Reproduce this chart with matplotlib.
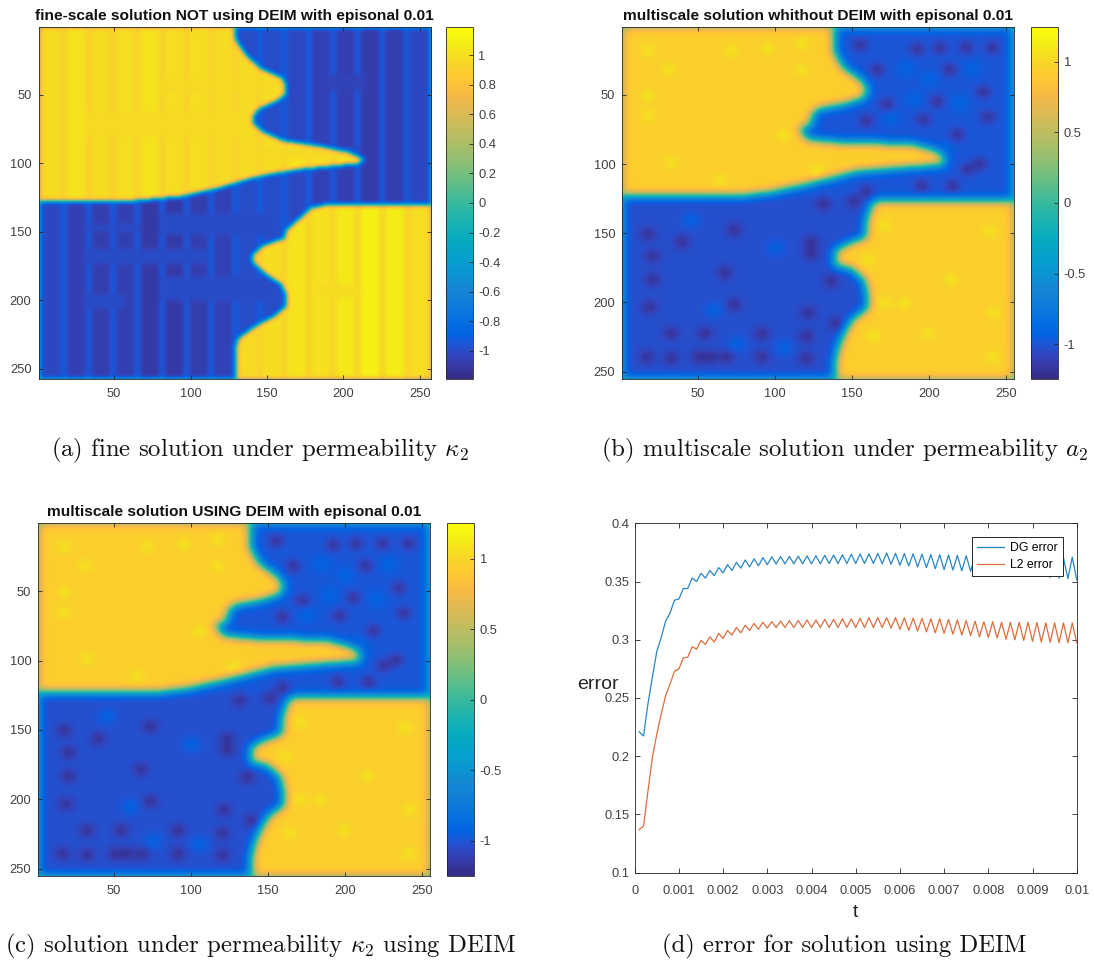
import numpy as np
import matplotlib
matplotlib.use('Agg')
import matplotlib.pyplot as plt
from matplotlib.colors import LinearSegmentedColormap
from matplotlib.path import Path

W, H = 1094, 964
plt.rcParams['font.family'] = ['Liberation Sans', 'DejaVu Sans']
plt.rcParams['mathtext.fontset'] = 'cm'

# parula, every other entry of the 64 colour table
parula_colors = [
    (0.2081, 0.1663, 0.5292), (0.2123, 0.2138, 0.6270), (0.1959, 0.2645, 0.7279),
    (0.1253, 0.3242, 0.8303), (0.0117, 0.3875, 0.8820), (0.0165, 0.4266, 0.8786),
    (0.0498, 0.4586, 0.8641), (0.0723, 0.4887, 0.8467), (0.0793, 0.5200, 0.8312),
    (0.0641, 0.5570, 0.8240), (0.0343, 0.5966, 0.8199), (0.0239, 0.6287, 0.8038),
    (0.0228, 0.6535, 0.7768), (0.0384, 0.6743, 0.7436), (0.0843, 0.6928, 0.7062),
    (0.1453, 0.7098, 0.6646), (0.2178, 0.7250, 0.6193), (0.3022, 0.7376, 0.5712),
    (0.3953, 0.7459, 0.5244), (0.4871, 0.7491, 0.4840), (0.5709, 0.7485, 0.4494),
    (0.6473, 0.7456, 0.4188), (0.7184, 0.7411, 0.3905), (0.7858, 0.7356, 0.3633),
    (0.8507, 0.7299, 0.3360), (0.9139, 0.7258, 0.3063), (0.9739, 0.7314, 0.2666),
    (0.9990, 0.7653, 0.2164), (0.9880, 0.8066, 0.1794), (0.9697, 0.8481, 0.1475),
    (0.9589, 0.8949, 0.1132), (0.9661, 0.9514, 0.0755), (0.9763, 0.9831, 0.0538),
]
parula = LinearSegmentedColormap.from_list('parula', parula_colors)

# interface of the fine solution, (col, row)
fine_upper = [(128, 0), (129, 10), (135, 20), (144, 30), (159, 38), (161, 42), (161, 50), (156, 54),
              (144, 60), (140, 66), (141, 72), (148, 78), (161, 84), (185, 88), (202, 92), (212, 97),
              (209, 100), (172, 104), (150, 108), (135, 112), (117, 118), (93, 124), (63, 127), (1, 128),
              (0, 128)]
fine_lower = [(258, 130), (190, 130), (178, 133), (172, 140), (163, 148), (161, 155), (148, 160), (141, 166),
              (140, 172), (148, 180), (159, 188), (162, 195), (162, 205), (154, 212), (141, 220), (131, 228),
              (129, 236), (129, 258), (258, 258)]

multi_upper = [(138, 0), (139, 20), (144, 30), (152, 36), (158, 42), (160, 47), (157, 52), (146, 56), (127, 60),
               (124, 65), (123, 72), (116, 73), (117, 76), (121, 82), (140, 84), (170, 85), (190, 86), (200, 89),
               (207, 92), (210, 96), (209, 100), (185, 102), (153, 105), (136, 110), (118, 115), (97, 120),
               (82, 122), (40, 122), (0, 123)]
multi_lower = [(258, 126), (166, 126), (163, 130), (160, 140), (159, 153), (147, 158), (139, 163), (139, 173),
               (149, 175), (158, 183), (160, 193), (160, 205), (151, 212), (146, 221), (142, 231), (140, 240),
               (139, 258), (258, 258)]

# stripe levels of the fine solution, one per 16 columns
fine_top_levels = [0.98, 1.03, 0.98, 1.00, 1.03, 1.00, 1.00, 0.98, 0.98, 1.00, 1.04, 1.02, 1.06, 1.10, 1.08, 1.00, 1.00]
fine_bottom_levels = [1.00, 1.04, 1.05, 1.04, 1.07, 1.07, 1.05, 1.03, 0.98, 0.98, 1.00, 1.03, 1.04, 1.06, 1.05, 1.00, 1.00]
# flat bands of panel a: row0, row1, col0, col1, level
fine_bands = [(136, 152, 80, 156, 1.00), (144, 149, 30, 66, 1.00), (162, 173, 30, 110, 1.00),
              (195, 206, 30, 56, 1.00), (182, 200, 80, 160, 1.00), (35, 46, 185, 215, 1.04),
              (38, 48, 80, 155, 0.97), (62, 80, 30, 130, 0.97), (88, 96, 130, 210, 0.97),
              (188, 197, 183, 211, 0.98)]

# dark spots in the blue parts, (col, row)
dark_spots = [(155, 13), (192, 16), (207, 15), (224, 15), (241, 15), (166, 31), (213, 31), (235, 47), (172, 56),
              (205, 54), (159, 68), (196, 67), (238, 65), (218, 78), (233, 99), (225, 103), (195, 115), (215, 115),
              (159, 119), (151, 126), (131, 128), (17, 150), (73, 147), (39, 156), (123, 156), (123, 164), (20, 166),
              (20, 183), (67, 178), (136, 184), (18, 203), (73, 201), (121, 207), (139, 215), (32, 222), (54, 222),
              (91, 222), (120, 224), (16, 239), (32, 240), (50, 239), (58, 239), (68, 239), (91, 239), (120, 240)]
# lighter patches in the blue parts, (col, row)
light_spots = [(175, 66), (190, 52), (220, 55), (185, 30), (228, 30), (210, 88), (45, 140), (100, 160), (60, 205),
               (150, 100), (75, 230), (105, 232), (200, 38)]
# bright spots in the yellow parts, (col, row)
bright_spots = [(17, 17), (71, 17), (95, 16), (117, 12), (31, 31), (117, 31), (17, 50), (17, 64), (105, 78), (32, 98),
                (64, 111), (127, 104), (171, 144), (239, 148), (161, 169), (171, 200), (184, 200), (214, 183),
                (242, 207), (164, 224), (199, 222), (241, 239)]

cbar_a_ticks = [-1, -0.8, -0.6, -0.4, -0.2, 0, 0.2, 0.4, 0.6, 0.8, 1]
cbar_a_labels = ['-1', '-0.8', '-0.6', '-0.4', '-0.2', '0', '0.2', '0.4', '0.6', '0.8', '1']
cbar_b_ticks = [-1, -0.5, 0, 0.5, 1]
cbar_b_labels = ['-1', '-0.5', '0', '0.5', '1']
image_ticks = [50, 100, 150, 200, 250]

t = [i / 10000 for i in range(1, 101)]
dg_error = [0.221, 0.2174, 0.245, 0.268, 0.290, 0.302, 0.316, 0.323, 0.334, 0.335,
            0.344, 0.344, 0.353, 0.350, 0.357, 0.353, 0.3595, 0.355, 0.362, 0.3575,
            0.3645, 0.3595, 0.3665, 0.3615, 0.3685, 0.3625, 0.3695, 0.3635, 0.3705, 0.3645,
            0.3712, 0.3650, 0.3715, 0.3652, 0.3716, 0.3652, 0.3718, 0.3652, 0.3720, 0.3652,
            0.3722, 0.3652, 0.3725, 0.3654, 0.3727, 0.3654, 0.3730, 0.3654, 0.3733, 0.3655,
            0.3736, 0.3655, 0.3738, 0.3655, 0.3742, 0.3652, 0.3745, 0.3648, 0.3742, 0.3640,
            0.3740, 0.3635, 0.3738, 0.3625, 0.3735, 0.3620, 0.3732, 0.3610, 0.3730, 0.3602,
            0.3728, 0.3598, 0.3725, 0.3592, 0.3722, 0.3588, 0.3718, 0.3580, 0.3715, 0.3575,
            0.3712, 0.3570, 0.3710, 0.3565, 0.3710, 0.3562, 0.3708, 0.3555, 0.3706, 0.3550,
            0.3706, 0.3545, 0.3705, 0.3535, 0.3705, 0.3530, 0.3705, 0.3525, 0.3710, 0.3515]
l2_error = [0.137, 0.140, 0.170, 0.199, 0.219, 0.236, 0.252, 0.262, 0.273, 0.275,
            0.2845, 0.285, 0.294, 0.292, 0.2995, 0.296, 0.3025, 0.298, 0.3055, 0.301,
            0.308, 0.304, 0.3105, 0.306, 0.3125, 0.308, 0.314, 0.309, 0.315, 0.310,
            0.3155, 0.3105, 0.316, 0.3105, 0.3165, 0.3105, 0.3165, 0.3105, 0.317, 0.3105,
            0.317, 0.3105, 0.3175, 0.3105, 0.3175, 0.3105, 0.318, 0.3105, 0.318, 0.3105,
            0.3185, 0.3105, 0.319, 0.3105, 0.319, 0.3105, 0.319, 0.310, 0.319, 0.309,
            0.319, 0.308, 0.3185, 0.3075, 0.3185, 0.3068, 0.318, 0.306, 0.318, 0.3055,
            0.3175, 0.3048, 0.317, 0.304, 0.3165, 0.3035, 0.316, 0.3025, 0.3155, 0.302,
            0.3155, 0.3015, 0.315, 0.3005, 0.315, 0.300, 0.315, 0.2995, 0.315, 0.2985,
            0.3148, 0.298, 0.3145, 0.2978, 0.3145, 0.2975, 0.3145, 0.2975, 0.3145, 0.2975]

dark = '#262626'
grey = '#404040'


def blur(field, sigma):
    # zeros outside the square, this gives the faded rim of the solutions
    r = int(3 * sigma)
    kernel = np.exp(-0.5 * (np.arange(-r, r + 1) / sigma) ** 2)
    kernel /= kernel.sum()
    field = np.apply_along_axis(lambda v: np.convolve(v, kernel, mode='same'), 0, field)
    return np.apply_along_axis(lambda v: np.convolve(v, kernel, mode='same'), 1, field)


def region_sign(n, upper, lower):
    cc, rr = np.meshgrid(np.arange(1, n + 1), np.arange(1, n + 1))
    pts = np.column_stack([cc.ravel(), rr.ravel()])
    up_poly = [(-1, -1)] + [(c, -1) for c, _ in upper[:1]] + upper + [(-1, upper[-1][1])]
    up = Path(up_poly).contains_points(pts).reshape(n, n)
    low = Path(lower).contains_points(pts).reshape(n, n)
    return np.where(up | low, 1.0, -1.0), up | low


def fine_field():
    n = 257
    sign, yellow = region_sign(n, fine_upper, fine_lower)
    mag = np.ones((n, n))
    for col in range(n):
        block = col // 16
        # yellow sits left on top and right below, blue the other way round
        mag[:, col] = np.where(yellow[:, col], fine_top_levels[block], fine_bottom_levels[block] + 0.02)
    # thin light lines between the blocks
    for col in range(0, n, 16):
        mag[:, max(col - 1, 0):col + 2] = np.where(yellow[:, max(col - 1, 0):col + 2], 0.89, 0.89)
    for r0, r1, c0, c1, level in fine_bands:
        mag[r0:r1, c0:c1] = level
    return blur(sign * mag, 1.6)


def multi_field():
    n = 255
    sign, yellow = region_sign(n, multi_upper, multi_lower)
    field = sign * 0.94
    field[~yellow] = -1.03
    field[:124][~yellow[:124]] = -0.99
    for c, r in light_spots:
        box = field[r - 5:r + 5, c - 5:c + 5]
        box[box < 0] = -0.92
    for c, r in dark_spots:
        box = field[r - 3:r + 3, c - 3:c + 3]
        box[box < 0] = -1.34
    for c, r in bright_spots:
        box = field[r - 3:r + 3, c - 3:c + 3]
        box[box > 0] = 1.2
    return blur(field, 3.1)


def px_axes(left, top, right, bottom):
    return fig.add_axes([left / W, 1 - bottom / H, (right - left) / W, (bottom - top) / H])


def draw_image(data, box, cbox, extent, lim, title, ticks, labels):
    ax = px_axes(*box)
    im = ax.imshow(data, cmap=parula, vmin=-lim, vmax=lim, extent=extent, aspect='auto', interpolation='bilinear')
    ax.set_xticks(image_ticks)
    ax.set_yticks(image_ticks)
    ax.tick_params(direction='in', length=3, width=0.6, top=True, right=True, colors=dark, labelsize=9.3,
                   labelcolor=grey, pad=5)
    ax.tick_params(axis='x', pad=6.4)
    for s in ax.spines.values():
        s.set_linewidth(0.6)
        s.set_color(dark)
    ax.set_title(title, fontsize=11.15, fontweight='bold', color='#111111', pad=5)
    cax = px_axes(*cbox)
    cb = fig.colorbar(im, cax=cax)
    cb.set_ticks(ticks)
    cb.set_ticklabels(labels)
    cax.tick_params(direction='in', length=3, width=0.6, colors=dark, labelsize=9.3, labelcolor=grey, pad=4)
    cb.outline.set_linewidth(0.6)
    cb.outline.set_edgecolor(dark)


fig = plt.figure(figsize=(W / 100, H / 100), dpi=100)

fine = fine_field()
multi = multi_field()

draw_image(fine, (38.5, 27, 431, 379), (445.5, 27, 472.5, 379), (0.5, 257.4, 257.3, 0.7), 1.19,
           'fine-scale solution NOT using DEIM with episonal 0.01', cbar_a_ticks, cbar_a_labels)
draw_image(multi, (622.3, 27, 1014, 379), (1031.3, 27, 1058.3, 379), (1, 255, 255.3, 1), 1.245,
           'multiscale solution whithout DEIM with episonal 0.01', cbar_b_ticks, cbar_b_labels)
draw_image(multi, (38.3, 523.3, 430, 876), (447.3, 523.3, 474.3, 876), (1, 255, 255.3, 1), 1.25,
           'multiscale solution USING DEIM with episonal 0.01', cbar_b_ticks, cbar_b_labels)

# error curves
ax = px_axes(634.7, 523.3, 1076.7, 872.7)
ax.plot(t, dg_error, color=(0, 0.447, 0.741), lw=0.9, alpha=0.85, label='DG error')
ax.plot(t, l2_error, color=(0.85, 0.325, 0.098), lw=0.9, alpha=0.85, label='L2 error')
ax.set_xlim(0, 0.01)
ax.set_ylim(0.1, 0.4)
ax.set_xticks([i / 1000 for i in range(11)])
ax.set_xticklabels(['0', '0.001', '0.002', '0.003', '0.004', '0.005', '0.006', '0.007', '0.008', '0.009', '0.01'])
ax.set_yticks([0.1, 0.15, 0.2, 0.25, 0.3, 0.35, 0.4])
ax.set_yticklabels(['0.1', '0.15', '0.2', '0.25', '0.3', '0.35', '0.4'])
ax.tick_params(direction='in', length=3.5, width=0.6, top=True, right=True, colors=dark, labelsize=9.3,
               labelcolor=grey, pad=4)
ax.tick_params(axis='x', pad=8.7)
for s in ax.spines.values():
    s.set_linewidth(0.6)
    s.set_color(dark)
ax.set_xlabel('t', fontsize=14, color=dark, labelpad=5)
ax.set_ylabel('error', fontsize=14, color=dark, rotation=0, labelpad=0)
ax.yaxis.set_label_coords((598 - 634.7) / 442, (872.7 - 693) / 349.4)
ax.legend(loc='upper right', bbox_to_anchor=((1063 - 634.7) / 442, (872.7 - 536.7) / 349.4), fontsize=8.8,
          fancybox=False, framealpha=1, edgecolor=dark, borderaxespad=0, handlelength=2.2, labelspacing=0.45,
          borderpad=0.42, handletextpad=0.5).get_frame().set_linewidth(0.7)

# sub-captions
captions = [(260, 456, '(a) fine solution under permeability $\\kappa_2$', 17.8),
            (844.7, 456, '(b) multiscale solution under permeability $a_2$', 17.8),
            (260, 952, '(c) solution under permeability $\\kappa_2$ using DEIM', 17.8),
            (844.7, 952, '(d) error for solution using DEIM', 17.8)]
for x, y, s, size in captions:
    fig.text(x / W, 1 - y / H, s, family='cmr10', fontsize=size, ha='center', va='baseline', color='#111111')

fig.savefig('out.png', dpi=100)
